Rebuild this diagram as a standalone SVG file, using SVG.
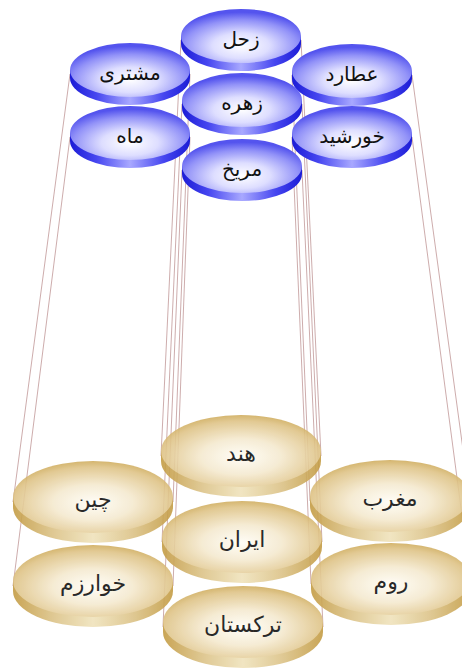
<svg xmlns="http://www.w3.org/2000/svg" xmlns:xlink="http://www.w3.org/1999/xlink" width="462" height="668" viewBox="0 0 462 668">
  <style>
    .link { stroke: #b98b8b; stroke-width: 0.8; fill: none; opacity: 0.9; }
    .label { font-family: "DejaVu Sans", "Noto Sans", sans-serif; fill: #111111; text-anchor: middle; dominant-baseline: central; }
    .planet .label { font-size: 20px; }
    .land .label { font-size: 22px; }
    .land { opacity: 0.9; }
  </style>
  <defs>
    <radialGradient id="blueFace" cx="50%" cy="68%" r="62%">
      <stop offset="0" stop-color="#ffffff"/>
      <stop offset="0.38" stop-color="#dedeff"/>
      <stop offset="0.76" stop-color="#9292f8"/>
      <stop offset="1" stop-color="#5454ee"/>
    </radialGradient>
    <linearGradient id="blueRim" x1="0" y1="0" x2="1" y2="0">
      <stop offset="0" stop-color="#1c1cd6"/>
      <stop offset="0.22" stop-color="#4646f0"/>
      <stop offset="0.5" stop-color="#a8a8ff"/>
      <stop offset="0.78" stop-color="#4646f0"/>
      <stop offset="1" stop-color="#1c1cd6"/>
    </linearGradient>
    <radialGradient id="goldFace" cx="50%" cy="58%" r="62%">
      <stop offset="0" stop-color="#fffdf6"/>
      <stop offset="0.4" stop-color="#f5ead0"/>
      <stop offset="0.8" stop-color="#dfc488"/>
      <stop offset="1" stop-color="#c9a34c"/>
    </radialGradient>
    <linearGradient id="goldRim" x1="0" y1="0" x2="1" y2="0">
      <stop offset="0" stop-color="#c49c44"/>
      <stop offset="0.25" stop-color="#dcc388"/>
      <stop offset="0.5" stop-color="#f0e3bc"/>
      <stop offset="0.75" stop-color="#dcc388"/>
      <stop offset="1" stop-color="#c49c44"/>
    </linearGradient>
    <!-- planet disc: rim under a flat top face -->
    <g id="blueDisc">
      <path d="M-60,0 v8 a60,27 0 0 0 120,0 v-8 z" fill="url(#blueRim)"/>
      <ellipse cx="0" cy="0" rx="60" ry="27" fill="url(#blueFace)"/>
    </g>
    <!-- land disc -->
    <g id="goldDisc">
      <path d="M-80,0 v10 a80,36 0 0 0 160,0 v-10 z" fill="url(#goldRim)"/>
      <ellipse cx="0" cy="0" rx="80" ry="36" fill="url(#goldFace)"/>
    </g>
  </defs>

  <rect width="462" height="668" fill="#ffffff"/>

  <!-- strings from each planet down to its land, edge to edge -->
  <g id="connectors">
    <line class="link" x1="70" y1="74" x2="13" y2="502"/>
    <line class="link" x1="190" y1="74" x2="173" y2="502"/>
    <line class="link" x1="70" y1="137" x2="13" y2="586"/>
    <line class="link" x1="190" y1="137" x2="173" y2="586"/>
    <line class="link" x1="292" y1="75" x2="310" y2="501"/>
    <line class="link" x1="412" y1="75" x2="470" y2="501"/>
    <line class="link" x1="292" y1="137" x2="311" y2="584"/>
    <line class="link" x1="412" y1="137" x2="471" y2="584"/>
    <line class="link" x1="181" y1="40" x2="161" y2="456"/>
    <line class="link" x1="301" y1="40" x2="321" y2="456"/>
    <line class="link" x1="182" y1="104" x2="162" y2="542"/>
    <line class="link" x1="302" y1="104" x2="322" y2="542"/>
    <line class="link" x1="182" y1="170" x2="163" y2="627"/>
    <line class="link" x1="302" y1="170" x2="323" y2="627"/>
  </g>

  <!-- lands -->
  <g id="hend" class="land" transform="translate(241,451)">
    <use xlink:href="#goldDisc"/>
    <text class="label" x="0" y="2">هند</text>
  </g>
  <g id="chin" class="land" transform="translate(93,497)">
    <use xlink:href="#goldDisc"/>
    <text class="label" x="0" y="2">چین</text>
  </g>
  <g id="maghreb" class="land" transform="translate(390,496)">
    <use xlink:href="#goldDisc"/>
    <text class="label" x="0" y="2">مغرب</text>
  </g>
  <g id="iran" class="land" transform="translate(242,537)">
    <use xlink:href="#goldDisc"/>
    <text class="label" x="0" y="2">ایران</text>
  </g>
  <g id="kharazm" class="land" transform="translate(93,581)">
    <use xlink:href="#goldDisc"/>
    <text class="label" x="0" y="2">خوارزم</text>
  </g>
  <g id="rum" class="land" transform="translate(391,579)">
    <use xlink:href="#goldDisc"/>
    <text class="label" x="0" y="2">روم</text>
  </g>
  <g id="torkestan" class="land" transform="translate(243,622)">
    <use xlink:href="#goldDisc"/>
    <text class="label" x="0" y="2">ترکستان</text>
  </g>

  <!-- planets -->
  <g id="zohal" class="planet" transform="translate(241,36)">
    <use xlink:href="#blueDisc"/>
    <text class="label" x="0" y="3">زحل</text>
  </g>
  <g id="moshtari" class="planet" transform="translate(130,70)">
    <use xlink:href="#blueDisc"/>
    <text class="label" x="0" y="3">مشتری</text>
  </g>
  <g id="otarod" class="planet" transform="translate(352,71)">
    <use xlink:href="#blueDisc"/>
    <text class="label" x="0" y="3">عطارد</text>
  </g>
  <g id="zohre" class="planet" transform="translate(242,100)">
    <use xlink:href="#blueDisc"/>
    <text class="label" x="0" y="3">زهره</text>
  </g>
  <g id="mah" class="planet" transform="translate(130,133)">
    <use xlink:href="#blueDisc"/>
    <text class="label" x="0" y="3">ماه</text>
  </g>
  <g id="khorshid" class="planet" transform="translate(352,133)">
    <use xlink:href="#blueDisc"/>
    <text class="label" x="0" y="3">خورشید</text>
  </g>
  <g id="merikh" class="planet" transform="translate(242,166)">
    <use xlink:href="#blueDisc"/>
    <text class="label" x="0" y="3">مریخ</text>
  </g>
</svg>
